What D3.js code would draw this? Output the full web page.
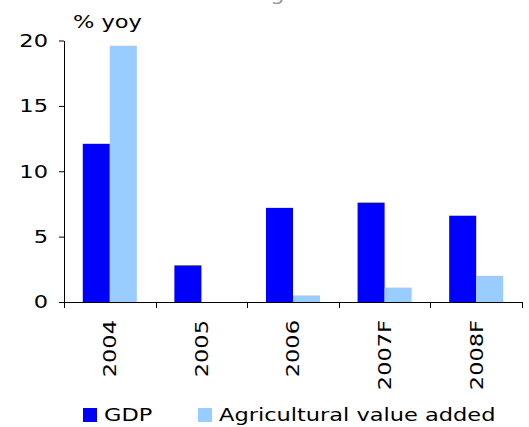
<!DOCTYPE html>
<html>
<head>
<meta charset="utf-8">
<script src="https://cdn.jsdelivr.net/npm/d3@7.9.0/dist/d3.min.js"></script>
<style>
  body { margin: 0; background: #fff; }
  svg { display: block; font-family: "DejaVu Sans", Verdana, sans-serif; }
</style>
</head>
<body>
<div id="chart"></div>
<script>
// data
const years = ['2004', '2005', '2006', '2007F', '2008F'];
const gdp = [12.1, 2.8, 7.2, 7.6, 6.6];
const agri = [19.6, 0, 0.5, 1.1, 2.0];
const seriesNames = ['GDP', 'Agricultural value added'];
const seriesColors = ['#0000ff', '#99ccff'];
const yTicks = [0, 5, 10, 15, 20];

const width = 529;
const height = 427;
const fontSize = 18;
const stretch = 1.25; // text in the reference is wider than DejaVu

const svg = d3.select('#chart')
  .append('svg')
  .attr('width', width)
  .attr('height', height);

const x = d3.scaleBand().domain(years).range([64, 522]).padding(0);
const x1 = d3.scaleBand().domain(seriesNames)
  .range([x.bandwidth() * 0.205, x.bandwidth() * 0.795]);
const y = d3.scaleLinear().domain([0, 20]).range([302, 40.5]);

// text placed at (tx, ty), widened along its baseline
function label(parent, tx, ty, str, opts = {}) {
  return parent.append('text')
    .attr('transform', `translate(${tx},${ty}) rotate(${opts.rotate || 0}) scale(${stretch},1)`)
    .attr('text-anchor', opts.anchor || 'start')
    .attr('dy', opts.dy || null)
    .attr('font-size', fontSize)
    .attr('fill', opts.fill || '#000')
    .text(str);
}

// title, cut off by the top edge as in the reference
label(svg, 265, 0, 'GDP and agriculture', { anchor: 'middle', fill: '#999' });

// unit label
label(svg, 73, 28, '% yoy');

// bars
const rows = years.map((yr, i) => ({ year: yr, values: [gdp[i], agri[i]] }));
const groups = svg.append('g').attr('class', 'bars')
  .selectAll('g')
  .data(rows)
  .join('g')
  .attr('transform', (d) => `translate(${x(d.year)},0)`);

groups.selectAll('rect')
  .data((d) => d.values.map((v, j) => ({ name: seriesNames[j], value: v, color: seriesColors[j] })))
  .join('rect')
  .attr('x', (d) => x1(d.name))
  .attr('width', x1.bandwidth())
  .attr('y', (d) => y(d.value))
  .attr('height', (d) => y(0) - y(d.value))
  .attr('fill', (d) => d.color);

// y axis
const yAxis = svg.append('g')
  .attr('transform', 'translate(64,0)')
  .call(d3.axisLeft(y).tickValues(yTicks).tickSize(5).tickSizeOuter(0).tickFormat(''));
yAxis.selectAll('line, path').attr('stroke', '#000');
yTicks.forEach((t) => label(svg, 48, y(t), String(t), { anchor: 'end', dy: '0.35em' }));

// x axis: line and ticks at category boundaries
const xg = svg.append('g').attr('class', 'x-axis');
xg.append('line')
  .attr('x1', x.range()[0]).attr('x2', x.range()[1])
  .attr('y1', y(0) + 0.5).attr('y2', y(0) + 0.5)
  .attr('stroke', '#000');
const bounds = d3.range(years.length + 1).map((i) => x.range()[0] + i * x.step());
xg.selectAll('line.tick')
  .data(bounds)
  .join('line')
  .attr('class', 'tick')
  .attr('x1', (d) => Math.round(d) + 0.5).attr('x2', (d) => Math.round(d) + 0.5)
  .attr('y1', y(0)).attr('y2', y(0) + 6)
  .attr('stroke', '#000');
years.forEach((yr) => label(xg, x(yr) + x.bandwidth() / 2, 320, yr,
  { anchor: 'end', rotate: -90, dy: '0.35em' }));

// legend
const legendX = [83, 198];
const legend = svg.append('g').attr('class', 'legend');
seriesNames.forEach((name, i) => {
  legend.append('rect')
    .attr('x', legendX[i]).attr('y', 408)
    .attr('width', 14).attr('height', 14)
    .attr('fill', seriesColors[i]);
  label(legend, legendX[i] + 21, 415, name, { dy: '0.35em' });
});
</script>
</body>
</html>
